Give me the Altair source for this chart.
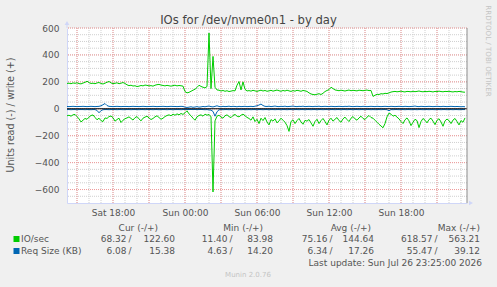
import altair as alt
import pandas as pd

# ---------------- texts ----------------
title_text = "IOs for /dev/nvme0n1 - by day"
y_title = "Units read (-) / write (+)"
watermark = "RRDTOOL / TOBI OETIKER"
footer = "Munin 2.0.76"
last_update = "Last update: Sun Jul 26 23:25:00 2026"

series_labels = ["IO/sec", "Req Size (KB)"]
series_colors = ["#00CC00", "#0066B3"]
col_heads = ["Cur (-/+)", "Min (-/+)", "Avg (-/+)", "Max (-/+)"]
io_stats_read = ["68.32", "11.40", "75.16", "618.57"]
io_stats_write = ["122.60", "83.98", "144.64", "563.21"]
req_stats_read = ["6.08", "4.63", "6.34", "55.47"]
req_stats_write = ["15.38", "14.20", "17.26", "39.12"]

# ---------------- time base ----------------
time_start = "2026-07-25 14:10:00"
time_end = "2026-07-26 23:30:00"
sample_step = "10min"

# ---------------- series (read values are plotted below zero) ----------------
io_write = [
    188, 190, 186, 192, 189, 193, 187, 185, 191, 196, 205, 194, 188, 190, 186, 192, 195, 188, 184, 190,
    197, 203, 192, 187, 189, 193, 186, 190, 195, 188,
    178, 172, 175, 169, 171, 165, 168, 173, 170, 176, 174, 170, 172, 168, 175, 179, 181, 176, 173, 170,
    174, 171, 168, 172, 175, 170, 173, 171, 168,
    128, 118, 122, 130, 138, 145, 158, 175, 166, 160, 155, 165,
    563, 150, 389, 160, 140,
    138, 132, 136, 130, 134, 128, 131, 135, 133,
    175, 202, 140, 200, 145, 132,
    135, 131, 137, 133, 129, 134, 138, 132, 136, 130, 133, 137, 131, 135, 139, 134, 130, 136, 132, 138,
    133, 129, 135, 131, 137, 134, 130, 136, 133, 129,
    118, 110, 106, 104, 108, 112, 106, 115,
    128, 136, 142, 160, 150, 140,
    137, 134, 138, 135, 132, 136, 139, 134, 137, 135, 133, 138, 136, 134, 137, 139, 135, 136,
    92, 100, 108, 106, 112, 110, 115, 113, 118,
    124, 127, 129, 126, 128, 131, 127, 125, 129, 128, 126, 130, 127, 129, 132, 128, 126, 129, 127, 130,
    128, 125, 129, 127, 131, 128, 126, 129, 128, 130, 127, 125, 128, 126, 129, 127, 124, 123,
]
io_read = [
    52, 48, 55, 45, 42, 58, 75, 98, 85, 72, 78, 62, 50, 46, 64, 82, 70, 88, 95, 68,
    72, 58, 54, 66, 92, 80, 70, 102, 85, 74,
    68, 60, 72, 84, 66, 58, 75, 90, 70, 62, 55, 68, 80, 72, 60, 52, 65, 78, 70, 58,
    50, 45, 52, 40, 48, 38, 45, 35, 42,
    30, 15, 38, 52, 70, 85, 60, 50, 45, 55, 40, 48,
    42, 60, 618, 90, 55,
    48, 62, 70, 52, 45, 58, 66, 50, 42, 55, 60, 48, 40, 52, 64,
    72, 85, 60, 95, 78, 110, 70, 88, 65, 98, 120, 80, 92, 75, 105, 90, 70, 85, 100, 125,
    168, 95, 82, 110, 88, 72, 98, 115, 86, 92,
    80, 105, 130, 95, 78, 110, 88, 72, 95, 120, 85, 70, 92, 78, 65, 88, 100, 75, 62, 80,
    95, 70, 58, 75, 85, 68, 55, 72, 80, 62, 50, 65,
    70, 85, 100, 115, 128, 141, 110, 60, 32, 40, 55, 48, 62,
    75, 95, 110, 82, 68, 90, 125, 100, 78, 88, 140, 95, 72, 85, 105, 80, 70, 92, 118, 86,
    74, 98, 130, 90, 76, 88, 110, 84, 72, 95, 120, 88, 100, 68,
]
req_write = [
    17, 16, 17, 18, 17, 16, 17, 17, 18, 17, 16, 17, 18, 17, 16, 17, 18, 22, 30, 39,
    24, 18, 17, 16, 17, 18, 17, 16, 17, 17,
    17, 16, 17, 18, 17, 17, 16, 17, 18, 17, 16, 17, 17, 18, 17, 16, 17, 17, 18, 17,
    16, 17, 18, 17, 17, 16, 17, 18, 17,
    12, 10, 12, 15, 11, 13, 16, 12, 14, 17, 15, 18, 20, 16, 14, 18, 22, 17, 15, 18,
    16, 17, 19, 16, 18, 17, 15, 18, 16, 17, 18, 16,
    17, 18, 16, 19, 22, 28, 35, 24, 18, 17, 19, 16, 18, 20, 17, 16, 18, 17, 19, 16,
    17, 18, 20, 17, 16, 18, 17, 19, 16, 17,
    18, 17, 16, 18, 17, 19, 16, 17, 18, 17, 16, 18, 17, 16, 17, 18, 17, 16, 18, 17,
    19, 17, 16, 17, 18, 17, 16, 18, 17, 16, 17, 18,
    17, 16, 18, 17, 16, 17, 18, 17, 16, 18, 17, 16, 17, 18, 17, 16, 18, 17, 16, 17,
    18, 20, 17, 16, 18, 17, 16, 17, 18, 17, 16, 17, 18, 17, 16, 18, 17, 16, 17, 18,
    17, 16, 17, 16, 15, 16, 15,
]
req_read = [
    6, 6, 7, 6, 6, 7, 6, 6, 6, 7, 6, 6, 7, 6, 6, 12, 30, 14, 7, 6,
    6, 7, 6, 6, 6, 7, 6, 6, 7, 6,
    6, 6, 7, 6, 6, 6, 7, 6, 6, 7, 6, 6, 6, 7, 6, 6, 7, 6, 6, 6,
    7, 6, 6, 7, 6, 6, 6, 7, 6,
    5, 5, 6, 5, 6, 5, 6, 6, 5, 6, 7, 6, 8, 10, 20, 55, 22, 8, 6, 7,
    6, 6, 7, 6, 6, 7, 6, 6, 7, 6, 6, 7,
    6, 7, 6, 6, 7, 6, 6, 7, 6, 6, 7, 6, 6, 7, 6, 6, 7, 6, 6, 7,
    6, 6, 7, 6, 6, 7, 6, 6, 7, 6,
    6, 7, 6, 6, 7, 6, 6, 7, 6, 6, 7, 6, 6, 7, 6, 6, 7, 6, 6, 7,
    6, 6, 7, 6, 6, 7, 6, 6, 7, 6, 6, 7,
    6, 7, 6, 6, 7, 6, 6, 7, 15, 6, 7, 6, 6, 7, 6, 6, 7, 6, 6, 7,
    6, 6, 7, 6, 6, 7, 6, 6, 7, 6, 6, 7, 6, 6, 7, 6, 6, 7, 6, 6,
    7, 6, 6, 7, 6, 6, 6,
]

# ---------------- axes ----------------
y_domain = [-700, 600]
y_label_values = [-600, -400, -200, 0, 200, 400, 600]
y_major = [-600, -400, -200, 0, 200, 400, 600]
y_minor = list(range(-650, 601, 50))
x_label_times = ["2026-07-25 18:00", "2026-07-26 00:00", "2026-07-26 06:00",
                 "2026-07-26 12:00", "2026-07-26 18:00"]

# ---------------- layout / style ----------------
FONT = "DejaVu Sans"
TXT = "#555555"
OX, OY = 67, 28          # plot origin in the page
PW, PH = 400, 175        # plot size
AXIS_C = "#CFD6F8"


def ms(ts):
    return int(pd.Timestamp(ts).value // 1_000_000)


times = pd.date_range(time_start, periods=len(io_write), freq=sample_step)
t_ms = [int(t.value // 1_000_000) for t in times]
x_domain = [ms(time_start), ms(time_end)]
hour_lines = [int(t.value // 1_000_000) for t in pd.date_range("2026-07-25 15:00", "2026-07-26 23:00", freq="1h")]
major_lines = [int(t.value // 1_000_000) for t in pd.date_range("2026-07-25 15:00", "2026-07-26 23:00", freq="3h")]
x_label_values = [ms(t) for t in x_label_times]

xscale = alt.Scale(type="utc", domain=x_domain)
yscale = alt.Scale(domain=y_domain, nice=False, zero=False)

XAX = alt.Axis(values=x_label_values, format="%a %H:%M", labelFont=FONT,
               labelFontSize=9, labelColor=TXT, domainColor=AXIS_C,
               ticks=False, grid=False, labelPadding=5, title=None,
               labelFlush=False, labelOverlap=False)
YAX = alt.Axis(values=y_label_values, labelFont=FONT, labelFontSize=9,
               labelColor=TXT, domainColor=AXIS_C, ticks=False, grid=False,
               labelPadding=8, title=None)

one = pd.DataFrame({"k": [0]})


def txt(s, x, y, size=9, color=TXT, align="left", angle=0, baseline="middle"):
    return alt.Chart(one).mark_text(
        text=s, font=FONT, fontSize=size, color=color, align=align,
        baseline=baseline, angle=angle
    ).encode(x=alt.value(x - OX), y=alt.value(y - OY))


def vgrid(vals, color):
    return alt.Chart(pd.DataFrame({"t": vals})).mark_rule(
        color=color, strokeWidth=1, strokeDash=[1, 1]
    ).encode(x=alt.X("t:T", scale=xscale, axis=XAX))


def hgrid(vals, color):
    return alt.Chart(pd.DataFrame({"v": vals})).mark_rule(
        color=color, strokeWidth=1, strokeDash=[1, 1]
    ).encode(y=alt.Y("v:Q", scale=yscale, axis=YAX))


def line(values, color, sign=1):
    df = pd.DataFrame({"t": t_ms, "v": [sign * v for v in values]})
    return alt.Chart(df).mark_line(color=color, strokeWidth=1, interpolate="linear").encode(
        x=alt.X("t:T", scale=xscale, axis=XAX),
        y=alt.Y("v:Q", scale=yscale, axis=YAX),
    )


layers = [
    vgrid(hour_lines, "#cfcfcf"),
    hgrid(y_minor, "#cfcfcf"),
    vgrid(major_lines, "#f09a9a"),
    hgrid(y_major, "#f09a9a"),
    line(io_read, series_colors[0], -1),
    line(io_write, series_colors[0], 1),
    line(req_read, series_colors[1], -1),
    line(req_write, series_colors[1], 1),
    alt.Chart(pd.DataFrame({"v": [0]})).mark_rule(color="#000000", strokeWidth=1).encode(
        y=alt.Y("v:Q", scale=yscale, axis=YAX)),
    # right frame line and axis arrows
    alt.Chart(one).mark_rule(color="#8c8c8c").encode(
        x=alt.value(PW), y=alt.value(0), y2=alt.value(PH)),
    alt.Chart(one).mark_rule(color=AXIS_C).encode(
        x=alt.value(0), y=alt.value(-5), y2=alt.value(0)),
    alt.Chart(one).mark_point(shape="triangle-up", filled=True, color=AXIS_C, size=22, opacity=1).encode(
        x=alt.value(0), y=alt.value(-5)),
    alt.Chart(one).mark_point(shape="triangle-right", filled=True, color=AXIS_C, size=22, opacity=1).encode(
        x=alt.value(PW + 4), y=alt.value(PH)),
    # title and side texts
    txt(title_text, 248.5, 21, size=11.6, color="#444444", align="center"),
    txt(y_title, 11, 115, size=9.6, align="center", angle=270),
    txt(watermark, 488, 51, size=7.1, color="#c4c4c4", align="center", angle=90),
]

# legend table
head_right = [158, 263, 371, 480]
slash_x = [130, 231, 331, 436]
write_right = [175, 273, 374, 480]
row_y = [239, 251]
for h, xr in zip(col_heads, head_right):
    layers.append(txt(h, xr, 228, align="right"))
for r, (lab, col, rd, wr) in enumerate(zip(series_labels, series_colors,
                                           [io_stats_read, req_stats_read],
                                           [io_stats_write, req_stats_write])):
    y = row_y[r]
    layers.append(alt.Chart(one).mark_square(size=36, color=col, opacity=1, filled=True).encode(
        x=alt.value(16.5 - OX), y=alt.value(y - OY)))
    layers.append(txt(lab, 21, y))
    for c in range(4):
        layers.append(txt(rd[c], slash_x[c] - 3.5, y, align="right"))
        layers.append(txt("/", slash_x[c], y, align="center"))
        layers.append(txt(wr[c], write_right[c], y, align="right"))

layers.append(txt(last_update, 482, 263, align="right"))
layers.append(txt(footer, 248, 275, size=7, color="#c4c4c4", align="center"))

chart = alt.layer(*layers).properties(
    width=PW, height=PH,
    padding={"left": OX, "top": OY, "right": 497 - OX - PW, "bottom": 287 - OY - PH},
    autosize=alt.AutoSizeParams(type="none"),
    background="#F0F0F0",
).configure_view(fill="white", stroke=None)

chart.save("out.html", embed_options={"renderer": "svg", "actions": False})
